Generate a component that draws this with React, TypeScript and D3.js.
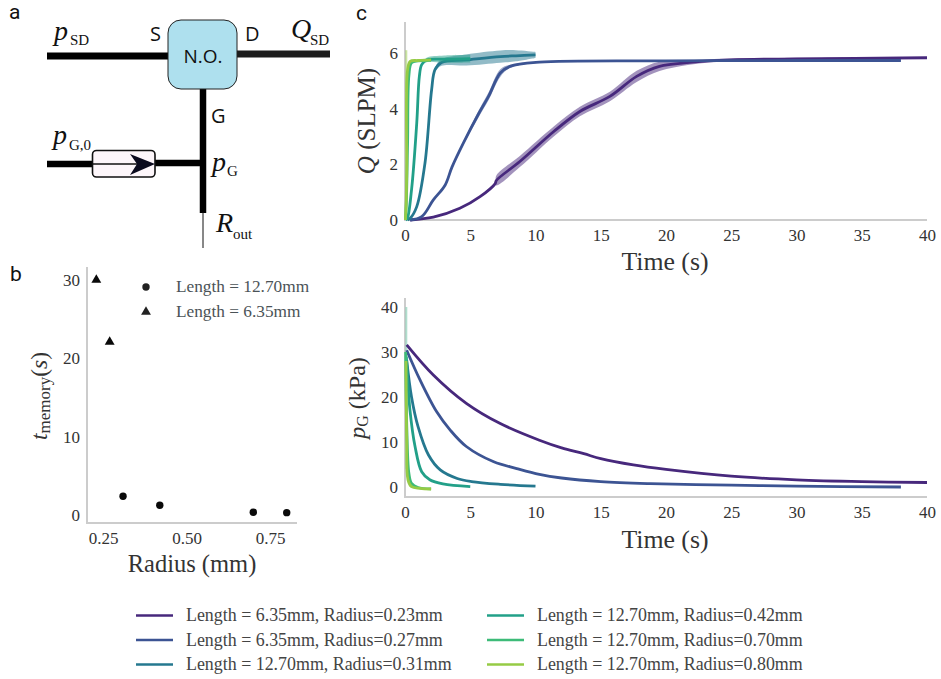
import React, { useEffect, useRef } from 'react';
import * as d3 from 'd3';

const seriesLabels = [
  'Length = 6.35mm, Radius=0.23mm',
  'Length = 6.35mm, Radius=0.27mm',
  'Length = 12.70mm, Radius=0.31mm',
  'Length = 12.70mm, Radius=0.42mm',
  'Length = 12.70mm, Radius=0.70mm',
  'Length = 12.70mm, Radius=0.80mm',
];
const seriesColors = ['#47287c', '#3c5493', '#25788f', '#22a088', '#3dbb78', '#96cb45'];

// flow Q(t) : time, value, half width of the pale band
const qTimes = [
  [0.4, 2.17, 4.2, 5.75, 6.9, 7, 8.8, 11.4, 13.4, 15.7, 17.75, 19.5, 21.8, 25, 30, 40],
  [0.4, 1.28, 2.17, 3.07, 3.6, 4.47, 5.6, 6.4, 7.3, 8.05, 10.3, 20, 30, 38],
  [0.2, 0.4, 0.9, 1.53, 2.04, 2.3, 2.8, 4.7, 7.3, 8.5, 10],
  [0.05, 0.18, 0.5, 0.9, 1.1, 1.28, 1.66, 3, 5],
  [0.03, 0.1, 0.2, 0.3, 0.5, 1, 2],
  [0.03, 0.08, 0.13, 0.2, 0.4, 1, 2],
];
const qValues = [
  [0, 0.1, 0.42, 0.84, 1.3, 1.42, 2.1, 3.18, 3.9, 4.44, 5.16, 5.52, 5.66, 5.75, 5.79, 5.83],
  [0, 0.12, 0.72, 1.25, 1.9, 2.76, 3.78, 4.44, 5.28, 5.52, 5.67, 5.72, 5.73, 5.73],
  [0, 0.06, 0.48, 2.04, 4.68, 5.4, 5.66, 5.75, 5.87, 5.9, 5.93],
  [0, 0.06, 1.08, 3.48, 5.16, 5.58, 5.75, 5.78, 5.8],
  [0, 0.6, 2.8, 5.2, 5.65, 5.72, 5.74],
  [0, 0.5, 1.7, 5.4, 5.7, 5.73, 5.75],
];
const qSpreads = [
  [0, 0, 0, 0, 0, 0.18, 0.2, 0.18, 0.17, 0.17, 0.2, 0.17, 0.08, 0.05, 0.04, 0.03],
  [0, 0, 0, 0.01, 0.03, 0.06, 0.12, 0.14, 0.14, 0.06, 0.02, 0.01, 0.01, 0.01],
  [0, 0, 0, 0.01, 0.03, 0.06, 0.12, 0.2, 0.22, 0.2, 0.11],
  [0, 0, 0, 0.01, 0.02, 0.04, 0.08, 0.13, 0.14],
  [0, 0, 0, 0, 0.01, 0.01, 0.01],
  [0, 0, 0, 0, 0.01, 0.01, 0.01],
];

// gate pressure pG(t)
const pTimes = [
  [0.13, 2.17, 4.7, 7.3, 10.3, 12, 13.7, 15, 17.5, 20, 25, 30, 35, 40],
  [0.13, 1.15, 2.43, 3.45, 4.7, 6.8, 8.56, 10.3, 12, 15, 18.8, 25, 30, 38],
  [0.13, 0.5, 1, 1.8, 2.7, 4, 5.1, 7.3, 10],
  [0.1, 0.18, 0.38, 0.77, 1.28, 1.9, 2.9, 5],
  [0.05, 0.15, 0.3, 0.5, 1, 2],
  [0.08, 0.13, 0.23, 0.5, 1.15, 2],
];
const pValues = [
  [31.6, 24.9, 18.6, 14.1, 10.4, 8.7, 7.4, 6.3, 4.9, 3.9, 2.4, 1.6, 1.2, 1.0],
  [30.4, 23.8, 16.7, 12.7, 9, 5.6, 4.1, 2.8, 2.0, 1.2, 0.75, 0.4, 0.2, 0],
  [28.2, 20, 13.4, 7.1, 3.8, 1.9, 1.2, 0.6, 0.2],
  [29, 25.3, 17.1, 9, 3.4, 1.6, 0.67, 0.07],
  [30, 12, 3, 0.8, -0.1, -0.4],
  [28, 10.4, 1.6, 0.07, -0.3, -0.44],
];

// pale start-up spikes at t = 0.1 s
const qSpikeTimes = [0.1, 0.1];
const qSpikeValues = [4.6, 6.1];
const pSpikeTimes = [0.1, 0.1];
const pSpikeValues = [4, 40];

// panel b
const circleRadius = [0.31, 0.42, 0.7, 0.8];
const circleMemory = [2.4, 1.25, 0.35, 0.3];
const triangleRadius = [0.23, 0.27];
const triangleMemory = [30, 22.1];

const timeTicks = [0, 5, 10, 15, 20, 25, 30, 35, 40];
const qTicks = [0, 2, 4, 6];
const pTicks = [0, 10, 20, 30, 40];
const memoryTicks = [0, 10, 20, 30];
const radiusTicks = [0.25, 0.5, 0.75];

const serif = '"Liberation Serif", serif';
const sans = '"Open Sans", sans-serif';
const ink = '#333333';

const App = () => {
  const chartRef = useRef<SVGGElement>(null);

  useEffect(() => {
    const svg = d3.select(chartRef.current);
    svg.selectAll('*').remove();

    // pixels per unit are fixed so ticks land where the reference has them
    const xTime = d3.scaleLinear().domain([0, 40]).range([405, 927]);
    const yQ = d3.scaleLinear().domain([0, 6]).range([220, 53]);
    const yP = d3.scaleLinear().domain([0, 40]).range([487, 307]);
    const xRadius = d3.scaleLinear().domain([0.25, 0.75]).range([103, 270]);
    const yMem = d3.scaleLinear().domain([0, 30]).range([515, 280]);

    const styleAxis = (g: any) => {
      g.select('.domain').attr('stroke', '#cccccc').attr('stroke-width', 2);
      g.selectAll('.tick line').remove();
      g.selectAll('text')
        .attr('font-family', serif)
        .attr('font-size', 17)
        .attr('fill', ink);
    };

    const addBottomAxis = (scale: any, ticks: number[], y: number, fmt: (d: any) => string, from: number, to: number) => {
      const g = svg.append('g').attr('transform', `translate(0,${y})`)
        .call(d3.axisBottom(scale).tickValues(ticks).tickFormat(fmt).tickSize(0).tickPadding(9));
      styleAxis(g);
      g.select('.domain').attr('d', `M${from},0H${to}`);
    };
    const addLeftAxis = (scale: any, ticks: number[], x: number, from: number, to: number) => {
      const g = svg.append('g').attr('transform', `translate(${x},0)`)
        .call(d3.axisLeft(scale).tickValues(ticks).tickFormat(d3.format('d')).tickSize(0).tickPadding(7));
      styleAxis(g);
      g.select('.domain').attr('d', `M0,${from}V${to}`);
    };

    addBottomAxis(xTime, timeTicks, 220, d3.format('d'), 404, 927);
    addLeftAxis(yQ, qTicks, 405, 221, 22);
    addBottomAxis(xTime, timeTicks, 497, d3.format('d'), 404, 927);
    addLeftAxis(yP, pTicks, 405, 498, 298);
    addBottomAxis(xRadius, radiusTicks, 523, d3.format('.2f'), 86, 297);
    addLeftAxis(yMem, memoryTicks, 87, 524, 267);

    const idx = (a: number[]) => a.map((_, i) => i);
    const smooth = d3.curveCatmullRom.alpha(0.5);

    // Q panel
    svg.append('path')
      .attr('d', d3.line<number>().x(i => xTime(qSpikeTimes[i])).y(i => yQ(qSpikeValues[i]))(idx(qSpikeTimes)))
      .attr('fill', 'none').attr('stroke', seriesColors[5]).attr('stroke-width', 2).attr('opacity', 0.5);
    seriesColors.forEach((color, s) => {
      const t = qTimes[s], v = qValues[s], sp = qSpreads[s];
      const band = d3.area<number>()
        .x(i => xTime(t[i]))
        .y0(i => yQ(v[i] - sp[i]))
        .y1(i => yQ(v[i] + sp[i]))
        .curve(smooth);
      svg.append('path').attr('d', band(idx(t))).attr('fill', color).attr('opacity', 0.5);
      const line = d3.line<number>().x(i => xTime(t[i])).y(i => yQ(v[i])).curve(smooth);
      svg.append('path').attr('d', line(idx(t))).attr('fill', 'none').attr('stroke', color).attr('stroke-width', 2.8);
    });

    // pG panel
    svg.append('path')
      .attr('d', d3.line<number>().x(i => xTime(pSpikeTimes[i])).y(i => yP(pSpikeValues[i]))(idx(pSpikeTimes)))
      .attr('fill', 'none').attr('stroke', '#8fd0b8').attr('stroke-width', 2).attr('opacity', 0.7);
    seriesColors.forEach((color, s) => {
      const t = pTimes[s], v = pValues[s];
      const line = d3.line<number>().x(i => xTime(t[i])).y(i => yP(v[i])).curve(smooth);
      svg.append('path').attr('d', line(idx(t))).attr('fill', 'none').attr('stroke', color).attr('stroke-width', 2.8);
    });

    // panel b marks
    svg.append('g').selectAll('circle').data(circleRadius).join('circle')
      .attr('cx', d => xRadius(d))
      .attr('cy', (_, i) => yMem(circleMemory[i]))
      .attr('r', 3.7).attr('fill', '#0a0a0a');
    const tri = d3.symbol().type(d3.symbolTriangle).size(42);
    svg.append('g').selectAll('path').data(triangleRadius).join('path')
      .attr('d', tri() as string)
      .attr('transform', (d, i) => `translate(${xRadius(d)},${yMem(triangleMemory[i])})`)
      .attr('fill', '#0a0a0a');

    // panel b legend
    svg.append('circle').attr('cx', 146).attr('cy', 287).attr('r', 3.7).attr('fill', '#222');
    svg.append('path').attr('d', tri() as string).attr('transform', 'translate(146,312)').attr('fill', '#222');
    [['Length = 12.70mm', 292], ['Length = 6.35mm', 317]].forEach(([label, y]) => {
      svg.append('text').attr('x', 176).attr('y', y as number).text(label as string)
        .attr('font-family', serif).attr('font-size', 17.3).attr('fill', '#4b5357');
    });

    // bottom legend
    seriesLabels.forEach((label, i) => {
      const col = i < 3 ? 0 : 1;
      const row = i % 3;
      const x0 = col === 0 ? 136 : 487;
      const y0 = 615.5 + row * 24.5;
      svg.append('line').attr('x1', x0).attr('x2', x0 + 37).attr('y1', y0).attr('y2', y0)
        .attr('stroke', seriesColors[i]).attr('stroke-width', 2.6);
      svg.append('text').attr('x', x0 + 50).attr('y', y0 + 5.5).text(label)
        .attr('font-family', serif).attr('font-size', 17.9).attr('fill', '#444');
    });
  }, []);

  const sub = (x: number, y: number, t: string, size = 15) => (
    <text x={x} y={y} fontFamily={serif} fontSize={size} fill="#111">{t}</text>
  );
  const ital = (x: number, y: number, t: string, size = 28) => (
    <text x={x} y={y} fontFamily={serif} fontStyle="italic" fontSize={size} fill="#111">{t}</text>
  );
  const letter = (x: number, y: number, t: string, size = 20, anchor = 'start') => (
    <text x={x} y={y} fontFamily={sans} fontSize={size} textAnchor={anchor} fill="#111">{t}</text>
  );
  const panel = (x: number, y: number, t: string) => (
    <text x={x} y={y} fontFamily="Roboto, sans-serif" fontSize={21} fill="#111">{t}</text>
  );

  return (
    <svg width={941} height={679} style={{ position: 'absolute', left: 0, top: 0, background: '#fff' }}>
      <g ref={chartRef} />
      {/* schematic, panel a */}
      <g>
        <line x1={47} x2={168} y1={56} y2={56} stroke="#000" strokeWidth={7} />
        <line x1={237} x2={330} y1={54} y2={54} stroke="#1c1c1c" strokeWidth={7} />
        <line x1={203} x2={203} y1={89} y2={213} stroke="#000" strokeWidth={6.5} />
        <line x1={203} x2={203} y1={212} y2={248} stroke="#111" strokeWidth={1} />
        <line x1={47} x2={92} y1={164} y2={164} stroke="#000" strokeWidth={6.5} />
        <line x1={155} x2={203} y1={163} y2={163} stroke="#000" strokeWidth={6.5} />
        <rect x={168} y={20} width={69} height={69} rx={13} fill="#aee0ee" stroke="#222" strokeWidth={1} />
        <rect x={92.5} y={150.5} width={62.5} height={26.5} rx={4} fill="#fdf6fa" stroke="#111" strokeWidth={1.6} />
        <line x1={92} x2={140} y1={164} y2={164} stroke="#111" strokeWidth={1.5} />
        <path d="M155,164L130,154L137,164L130,175Z" fill="#0b0b1e" />
      </g>
      {panel(9, 19, 'a')}
      {panel(10, 281, 'b')}
      {panel(356, 20, 'c')}
      {letter(203, 63, 'N.O.', 19, 'middle')}
      {letter(150, 41, 'S')}
      {letter(245, 41, 'D')}
      {letter(211, 123, 'G')}
      {ital(54, 40, 'p')}{sub(70, 45, 'SD')}
      {ital(291, 38, 'Q')}{sub(310, 45, 'SD')}
      {ital(53, 144, 'p')}{sub(69, 150, 'G,0')}
      {ital(212, 171, 'p')}{sub(227, 176, 'G')}
      {ital(216, 232, 'R')}{sub(233, 239, 'out')}

      {/* axis titles */}
      <text x={665} y={270} textAnchor="middle" fontFamily={serif} fontSize={25.8} fill="#333">Time (s)</text>
      <text x={665} y={548} textAnchor="middle" fontFamily={serif} fontSize={25.8} fill="#333">Time (s)</text>
      <text x={192} y={572} textAnchor="middle" fontFamily={serif} fontSize={24.5} fill="#333">Radius (mm)</text>
      <text transform="translate(375,121) rotate(-90)" textAnchor="middle" fontFamily={serif} fontSize={25} fill="#333">
        <tspan fontStyle="italic">Q</tspan> (SLPM)
      </text>
      <text transform="translate(365,398) rotate(-90)" textAnchor="middle" fontFamily={serif} fontSize={24} fill="#333">
        <tspan fontStyle="italic">p</tspan><tspan fontSize={16} dy={3}>G</tspan><tspan dy={-3}> (kPa)</tspan>
      </text>
      <text transform="translate(47,396) rotate(-90)" textAnchor="middle" fontFamily={serif} fontSize={23.5} fill="#333">
        <tspan fontStyle="italic">t</tspan><tspan fontSize={17} dy={3}>memory</tspan><tspan dy={-3}>(</tspan><tspan fontStyle="italic">s</tspan>)
      </text>
    </svg>
  );
};

export default App;
